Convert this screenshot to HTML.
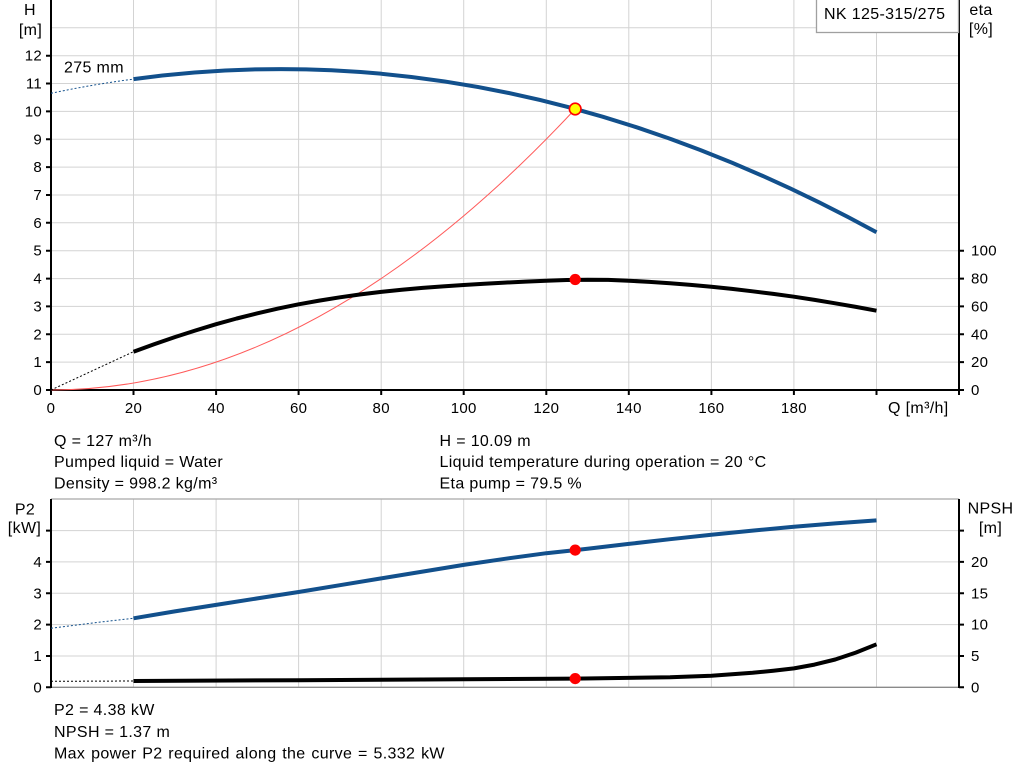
<!DOCTYPE html>
<html>
<head>
<meta charset="utf-8">
<style>
html,body{margin:0;padding:0;background:#fff;}
svg{display:block;}
text{font-family:"Liberation Sans",Arial,sans-serif;fill:#000;}
.t{font-size:15px;letter-spacing:0.3px;}
.i{font-size:16px;letter-spacing:0.35px;}
</style>
</head>
<body>
<svg width="1024" height="781" viewBox="0 0 1024 781" xmlns="http://www.w3.org/2000/svg">
<!-- ===== TOP CHART GRID ===== -->
<g stroke="#d3d3d3" stroke-width="1" fill="none">
  <path d="M133.5,0V390M216.1,0V390M298.6,0V390M381.2,0V390M463.7,0V390M546.3,0V390M628.8,0V390M711.4,0V390M793.9,0V390M876.5,0V390"/>
  <path d="M51,362.1H959M51,334.3H959M51,306.4H959M51,278.6H959M51,250.7H959M51,222.8H959M51,195H959M51,167.1H959M51,139.3H959M51,111.4H959M51,83.5H959M51,55.7H959M51,27.8H959"/>
</g>
<!-- axes top -->
<g stroke="#000" stroke-width="2" fill="none">
  <path d="M51,0V395"/>
  <path d="M959,0V395"/>
  <path d="M50,390H960"/>
  <path d="M46,390H51M46,362.1H51M46,334.3H51M46,306.4H51M46,278.6H51M46,250.7H51M46,222.8H51M46,195H51M46,167.1H51M46,139.3H51M46,111.4H51M46,83.5H51M46,55.7H51"/>
  <path d="M959,390H964M959,362.1H964M959,334.3H964M959,306.4H964M959,278.6H964M959,250.7H964"/>
  <path d="M133.5,390V395M216.1,390V395M298.6,390V395M381.2,390V395M463.7,390V395M546.3,390V395M628.8,390V395M711.4,390V395M793.9,390V395M876.5,390V395"/>
</g>
<g class="t" text-anchor="end">
  <text x="42" y="395">0</text>
  <text x="42" y="367.1">1</text>
  <text x="42" y="339.3">2</text>
  <text x="42" y="311.4">3</text>
  <text x="42" y="283.6">4</text>
  <text x="42" y="255.7">5</text>
  <text x="42" y="227.8">6</text>
  <text x="42" y="200">7</text>
  <text x="42" y="172.1">8</text>
  <text x="42" y="144.3">9</text>
  <text x="42" y="116.4">10</text>
  <text x="42" y="88.5">11</text>
  <text x="42" y="60.7">12</text>
</g>
<text class="i" x="30" y="15" text-anchor="middle">H</text>
<text class="i" x="30.5" y="35" text-anchor="middle">[m]</text>
<g class="t">
  <text x="971" y="395">0</text>
  <text x="971" y="367.1">20</text>
  <text x="971" y="339.3">40</text>
  <text x="971" y="311.4">60</text>
  <text x="971" y="283.6">80</text>
  <text x="971" y="255.7">100</text>
</g>
<text class="i" x="981" y="15" text-anchor="middle">eta</text>
<text class="i" x="981" y="34" text-anchor="middle">[%]</text>
<g class="t" text-anchor="middle">
  <text x="51" y="413">0</text>
  <text x="133.5" y="413">20</text>
  <text x="216.1" y="413">40</text>
  <text x="298.6" y="413">60</text>
  <text x="381.2" y="413">80</text>
  <text x="463.7" y="413">100</text>
  <text x="546.3" y="413">120</text>
  <text x="628.8" y="413">140</text>
  <text x="711.4" y="413">160</text>
  <text x="793.9" y="413">180</text>
</g>
<text class="i" x="888" y="413">Q [m³/h]</text>
<rect x="816.5" y="-2" width="142" height="34.5" fill="#fff" stroke="#a0a0a0" stroke-width="1.3"/>
<text class="i" x="824" y="19">NK 125-315/275</text>
<text class="i" x="64" y="72.5">275 mm</text>
<!-- curves top -->
<path d="M51,390 Q313.2,390 575.2,109" fill="none" stroke="#ff5a5a" stroke-width="1"/>
<path d="M51,93.3 Q92.3,84.5 133.5,79.1" fill="none" stroke="#12508c" stroke-width="1" stroke-dasharray="2,2"/>
<path d="M133.5,79.1 Q505,28.7 876.5,232.3" fill="none" stroke="#12508c" stroke-width="4"/>
<path d="M51,390 L133.5,351.7" fill="none" stroke="#000" stroke-width="1" stroke-dasharray="2,2"/>
<polyline fill="none" stroke="#000" stroke-width="4" stroke-linejoin="round" points="133.5,351.7 154.1,344.3 174.8,337.1 195.4,330.5 216.1,324.2 236.7,318.5 257.4,313.3 278,308.6 298.6,304.3 319.3,300.6 339.9,297.3 360.6,294.4 381.2,291.9 401.8,289.8 422.5,287.9 443.1,286.4 463.7,285 484.4,283.7 505,282.6 525.7,281.6 546.3,280.7 566.9,280 587.5,279.7 608.2,279.9 628.8,280.7 649.5,281.9 670.1,283.3 690.7,284.9 711.4,286.7 732,288.9 752.6,291.3 773.3,293.9 793.9,296.7 814.6,299.9 835.2,303.3 855.9,306.9 876.5,310.7"/>
<circle cx="575.2" cy="109" r="5.8" fill="#ffff00" stroke="#ff0000" stroke-width="1.6"/>
<circle cx="575.2" cy="279.5" r="5.6" fill="#ff0000"/>

<g class="i">
  <text x="54" y="446">Q = 127 m³/h</text>
  <text x="54" y="467">Pumped liquid = Water</text>
  <text x="54" y="488.5">Density = 998.2 kg/m³</text>
  <text x="439.5" y="446">H = 10.09 m</text>
  <text x="439.5" y="467">Liquid temperature during operation = 20 °C</text>
  <text x="439.5" y="488.5">Eta pump = 79.5 %</text>
</g>

<!-- ===== BOTTOM CHART ===== -->
<g stroke="#d3d3d3" stroke-width="1" fill="none">
  <path d="M133.5,499V687M216.1,499V687M298.6,499V687M381.2,499V687M463.7,499V687M546.3,499V687M628.8,499V687M711.4,499V687M793.9,499V687M876.5,499V687"/>
  <path d="M51,656H959M51,624.6H959M51,593.3H959M51,561.9H959M51,530.6H959"/>
</g>
<path d="M51,499H959" stroke="#a8a8a8" stroke-width="1.3"/>
<path d="M51,687.3H959" stroke="#8a8a8a" stroke-width="1.3"/>
<g stroke="#000" stroke-width="2" fill="none">
  <path d="M51,499V688"/>
  <path d="M959,499V688"/>
  <path d="M46,687.3H51M46,656H51M46,624.6H51M46,593.3H51M46,561.9H51M46,530.6H51"/>
  <path d="M959,687.3H964M959,656H964M959,624.6H964M959,593.3H964M959,561.9H964M959,530.6H964"/>
</g>
<g class="t" text-anchor="end">
  <text x="42" y="692.3">0</text>
  <text x="42" y="661">1</text>
  <text x="42" y="629.6">2</text>
  <text x="42" y="598.3">3</text>
  <text x="42" y="566.9">4</text>
</g>
<text class="i" x="25" y="514.5" text-anchor="middle">P2</text>
<text class="i" x="24.5" y="533" text-anchor="middle">[kW]</text>
<g class="t">
  <text x="971" y="692.3">0</text>
  <text x="971" y="661">5</text>
  <text x="971" y="629.6">10</text>
  <text x="971" y="598.3">15</text>
  <text x="971" y="566.9">20</text>
</g>
<text class="i" x="990.5" y="513.5" text-anchor="middle">NPSH</text>
<text class="i" x="990.5" y="533" text-anchor="middle">[m]</text>

<path d="M51,628.3 Q92.3,622.8 133.5,618.3" fill="none" stroke="#12508c" stroke-width="1" stroke-dasharray="2,2"/>
<polyline fill="none" stroke="#12508c" stroke-width="4" stroke-linejoin="round" points="133.5,618.3 174.8,611.4 216.1,604.9 257.4,598.4 298.6,592 339.9,585.2 381.2,578.4 422.5,571.6 463.7,564.9 505,558.8 546.3,553.2 575.2,550.1 587.5,548.8 628.8,543.9 670.1,539.2 711.4,534.8 752.6,530.6 793.9,526.7 835.2,523.4 876.5,520.4"/>
<path d="M51,681.3 L133.5,681" fill="none" stroke="#000" stroke-width="1" stroke-dasharray="2,2"/>
<polyline fill="none" stroke="#000" stroke-width="4" stroke-linejoin="round" points="133.5,681 298.6,680.2 463.7,679.3 575.2,678.6 670.1,677.3 711.4,675.8 752.6,672.8 773.3,670.8 793.9,668.4 814.5,664.6 835.2,659.5 855.8,652.6 876.5,644.3"/>
<circle cx="575.2" cy="550.1" r="5.6" fill="#ff0000"/>
<circle cx="575.2" cy="678.6" r="5.6" fill="#ff0000"/>

<g class="i">
  <text x="54" y="715">P2 = 4.38 kW</text>
  <text x="54" y="737">NPSH = 1.37 m</text>
  <text x="54" y="758.5" word-spacing="1">Max power P2 required along the curve = 5.332 kW</text>
</g>
</svg>
</body>
</html>
